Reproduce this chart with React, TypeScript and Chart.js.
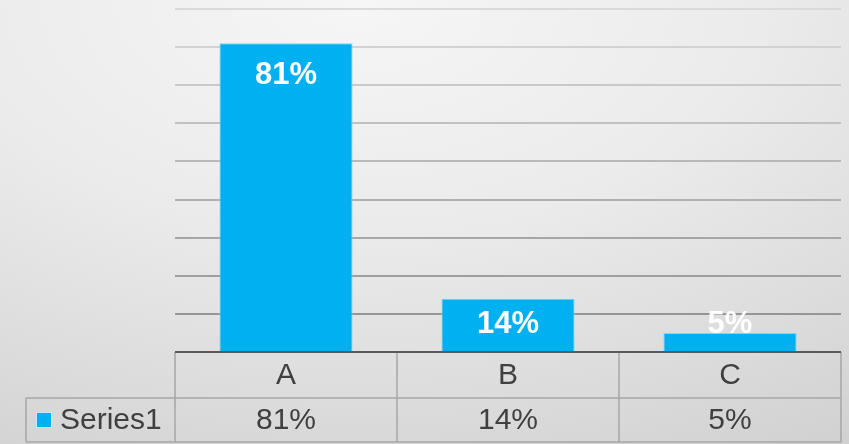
import React, { useEffect, useRef } from "react";
import { Chart, registerables } from "chart.js";

Chart.register(...registerables);

const categories = ["A", "B", "C"];
const seriesName = "Series1";
const values = [0.81, 0.14, 0.05];
const valueLabels = ["81%", "14%", "5%"];
const yMax = 0.9;
const yStep = 0.1;

const BAR = "#00B0F0";
const FONT = "'Liberation Sans', Arial, sans-serif";

const tablePlugin = {
  id: "tablePlugin",
  beforeDatasetsDraw(chart: any) {
    const { ctx, chartArea, scales } = chart;
    const y = scales.y;
    ctx.save();
    ctx.lineWidth = 2;
    y.ticks.forEach((t: any) => {
      if (t.value <= 0) return;
      const yy = Math.round(y.getPixelForValue(t.value));
      const f = t.value / yMax;
      const g = Math.round(0x8e + (0xda - 0x8e) * f);
      ctx.strokeStyle = `rgb(${g},${g},${g})`;
      ctx.beginPath();
      ctx.moveTo(chartArea.left, yy);
      ctx.lineTo(chartArea.right, yy);
      ctx.stroke();
    });
    ctx.restore();
  },
  afterDatasetsDraw(chart: any) {
    const { ctx, chartArea } = chart;
    const meta = chart.getDatasetMeta(0);
    ctx.save();
    ctx.fillStyle = "#ffffff";
    ctx.font = `bold 31px ${FONT}`;
    ctx.textAlign = "center";
    ctx.textBaseline = "middle";
    meta.data.forEach((bar: any, i: number) => {
      const yy = Math.min(bar.y + 32, chartArea.bottom - 28);
      ctx.fillText(valueLabels[i], bar.x, yy);
    });
    ctx.restore();
  },
  afterDraw(chart: any) {
    const { ctx, chartArea, scales } = chart;
    const x = scales.x;
    const n = categories.length;
    const colW = (chartArea.right - chartArea.left) / n;
    const top = chartArea.bottom;
    const row1 = top + 46;
    const row2 = row1 + 44;
    const leftLegend = 26;
    ctx.save();
    ctx.strokeStyle = "#a6a6a6";
    ctx.lineWidth = 1.5;
    ctx.beginPath();
    ctx.moveTo(leftLegend, row1);
    ctx.lineTo(chartArea.right, row1);
    ctx.moveTo(leftLegend, row2);
    ctx.lineTo(chartArea.right, row2);
    for (let i = 0; i <= n; i++) {
      const xx = chartArea.left + i * colW;
      ctx.moveTo(xx, top);
      ctx.lineTo(xx, row2);
    }
    ctx.moveTo(leftLegend, row1);
    ctx.lineTo(leftLegend, row2);
    ctx.stroke();

    ctx.strokeStyle = "#5a5a5a";
    ctx.lineWidth = 2;
    ctx.beginPath();
    ctx.moveTo(chartArea.left, top);
    ctx.lineTo(chartArea.right, top);
    ctx.stroke();

    ctx.fillStyle = "#404040";
    ctx.font = `30px ${FONT}`;
    ctx.textAlign = "center";
    ctx.textBaseline = "middle";
    categories.forEach((c, i) => {
      const cx = x.getPixelForValue(i);
      ctx.fillText(c, cx, (top + row1) / 2 + 1);
      ctx.fillText(valueLabels[i], cx, (row1 + row2) / 2 + 1);
    });
    const midY = (row1 + row2) / 2;
    ctx.fillStyle = BAR;
    ctx.fillRect(36, midY - 8, 16, 16);
    ctx.strokeStyle = "#bfeafb";
    ctx.lineWidth = 1;
    ctx.strokeRect(36.5, midY - 7.5, 15, 15);
    ctx.fillStyle = "#404040";
    ctx.textAlign = "left";
    ctx.fillText(seriesName, 60, midY + 1);
    ctx.restore();
  },
};

export default function App() {
  const ref = useRef<HTMLCanvasElement>(null);
  useEffect(() => {
    document.body.style.margin = "0";
    const chart = new Chart(ref.current!, {
      type: "bar",
      data: {
        labels: categories,
        datasets: [
          {
            label: seriesName,
            data: values,
            backgroundColor: BAR,
            borderColor: "#7fd6f6",
            borderWidth: 1,
            barPercentage: 0.6,
            categoryPercentage: 1,
          },
        ],
      },
      options: {
        animation: false,
        responsive: false,
        maintainAspectRatio: false,
        layout: { padding: { left: 175, right: 8, top: 9, bottom: 92 } },
        plugins: { legend: { display: false }, tooltip: { enabled: false } },
        scales: {
          x: { display: false, offset: true },
          y: {
            display: false,
            min: 0,
            max: yMax,
            ticks: { stepSize: yStep },
          },
        },
      },
      plugins: [tablePlugin],
    });
    return () => chart.destroy();
  }, []);
  return (
    <div
      style={{
        width: 849,
        height: 444,
        background:
          "radial-gradient(ellipse 120% 130% at 42% 0%, #f6f6f6 0%, #ebebeb 40%, #d9d9d9 75%, #cccccc 100%)",
      }}
    >
      <canvas ref={ref} width={849} height={444} style={{ display: "block" }} />
    </div>
  );
}
